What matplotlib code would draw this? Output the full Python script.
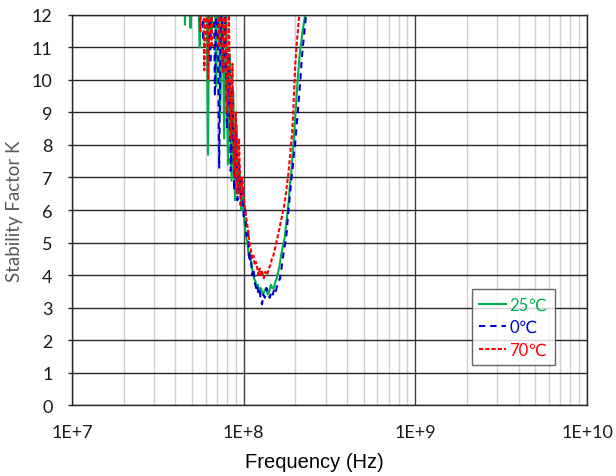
import matplotlib
matplotlib.use("Agg")
import matplotlib.pyplot as plt
from matplotlib.ticker import LogLocator, FixedLocator, NullFormatter

plt.rcParams['font.family'] = ['Lato', 'DejaVu Sans']

# Fator de estabilidade K medido (frequencia em MHz)
f25 = [44, 45.5, 47, 49, 51, 53, 55.5, 57, 59, 60.5,
       62, 63.5, 65, 67, 69, 71, 73, 75, 77, 79,
       81, 83, 85, 87, 89, 91, 93, 95, 97, 99,
       101, 103, 105, 107, 109, 111, 113, 115, 117, 119,
       121, 123, 126, 129, 132, 135, 138, 141, 144, 147,
       150, 153, 156, 159, 162, 165, 168, 171, 174, 177,
       180, 183, 186, 189, 192, 195, 198, 201, 204, 207,
       210, 213, 216, 219, 222, 225, 228, 231, 234]
k25 = [16, 11.7, 17, 11.6, 18, 15, 11.0, 16, 13.5, 14,
       7.7, 15, 11.5, 17, 9.8, 15, 8.9, 13, 8.2, 12,
       7.4, 10.8, 6.9, 9.6, 6.3, 8.6, 6.5, 7.2, 6.0, 6.4,
       5.6, 5.2, 5.0, 4.6, 4.7, 4.3, 4.1, 3.9, 3.8, 3.6,
       3.7, 3.5, 3.6, 3.4, 3.5, 3.6, 3.4, 3.5, 3.7, 3.6,
       3.6, 3.8, 3.9, 4.1, 4.3, 4.6, 4.8, 5.0, 5.2, 5.6,
       5.9, 6.3, 6.8, 7.1, 7.6, 8.0, 8.6, 9.1, 9.6, 10.1,
       10.5, 10.9, 11.1, 11.4, 11.6, 11.8, 12.0, 12.3, 12.6]

f0 = [52, 54, 56, 58, 60, 62, 64, 66, 68, 70,
      72, 74, 76, 78, 80, 82, 84, 86, 88, 90,
      92, 94, 96, 98, 100, 102, 104, 106, 108, 110,
      112, 114, 116, 118, 120, 122, 124, 126, 128, 130,
      133, 136, 139, 142, 145, 148, 151, 154, 157, 160,
      163, 166, 169, 172, 175, 178, 181, 184, 187, 190,
      193, 196, 199, 202, 205, 208, 211, 214, 217, 220,
      223, 226, 229, 232, 235, 238]
k0 = [16, 12.5, 17, 11.2, 15, 13, 10.5, 16, 9.5, 14,
      7.3, 13, 10.2, 12, 8.5, 11, 7.2, 9.8, 6.6, 8.4,
      6.3, 7.5, 6.4, 6.9, 5.8, 6.0, 5.2, 5.4, 4.4, 4.6,
      4.0, 4.2, 3.8, 3.6, 3.7, 3.4, 3.5, 3.2, 3.1, 3.4,
      3.3, 3.6, 3.4, 3.3, 3.5, 3.4, 3.6, 3.5, 3.7, 3.8,
      3.9, 4.2, 4.5, 4.8, 5.0, 5.3, 5.8, 6.2, 6.6, 7.0,
      7.3, 7.7, 8.0, 8.4, 8.8, 9.2, 9.6, 10.0, 10.5, 10.9,
      11.2, 11.5, 11.8, 12.1, 12.5, 13]

f70 = [54, 56, 57.5, 59, 60.5, 62, 63.5, 65, 66.5, 68,
       70, 72, 74, 76, 78, 80, 82, 84, 86, 88,
       90, 92, 94, 96, 98, 100, 102, 104, 106, 108,
       110, 112, 114, 116, 118, 120, 122, 124, 126, 128,
       131, 134, 137, 140, 143, 146, 149, 152, 155, 158,
       161, 164, 167, 170, 173, 176, 179, 182, 185, 188,
       191, 194, 197, 200, 203, 206, 209, 212, 215, 218]
k70 = [15, 11.5, 16, 10.3, 14, 10.0, 15, 11.0, 16, 12.5,
       14, 11.0, 15, 10.2, 13, 9.0, 12, 8.2, 10.5, 7.0,
       9.0, 6.5, 8.2, 6.1, 7.0, 6.4, 6.0, 5.7, 5.4, 5.0,
       4.8, 4.5, 4.6, 4.3, 4.4, 4.2, 4.0, 4.2, 4.0, 4.1,
       3.9, 4.1, 4.0, 4.2, 4.3, 4.5, 4.6, 4.8, 5.0, 5.2,
       5.4, 5.6, 5.8, 6.0, 6.2, 6.5, 6.8, 7.1, 7.5, 7.9,
       8.3, 8.9, 9.8, 10.5, 11.0, 11.4, 11.8, 12.1, 12.5, 13.0]

series = [
    (f25, k25, '25℃', '#00B050', '-'),
    (f0, k0, '0℃', '#0000CC', (0, (3.0, 2.4))),
    (f70, k70, '70℃', '#FF0000', (0, (2.0, 1.0))),
]

fig = plt.figure(figsize=(6.16, 4.77), dpi=100)
ax = fig.add_axes([0.1169, 0.1488, 0.836, 0.8177])

for f, k, nome, cor, estilo in series:
    hz = [v * 1e6 for v in f]
    ax.plot(hz, k, color=cor, linestyle=estilo, linewidth=1.5, label=nome)

ax.set_xscale('log')
ax.set_xlim(1e7, 1e10)
ax.set_ylim(0, 12)
ax.xaxis.set_major_locator(FixedLocator([1e7, 1e8, 1e9, 1e10]))
ax.set_xticklabels(['1E+7', '1E+8', '1E+9', '1E+10'])
ax.xaxis.set_minor_locator(LogLocator(base=10, subs=range(2, 10)))
ax.xaxis.set_minor_formatter(NullFormatter())
ax.set_yticks(range(0, 13))

ax.grid(which='minor', axis='x', color='#d0d0d0', linewidth=1.0)
ax.grid(which='major', axis='x', color='#404040', linewidth=1.0)
ax.grid(which='major', axis='y', color='#262626', linewidth=1.0)
ax.set_axisbelow(True)

ax.tick_params(which='both', length=0, labelsize=13, labelcolor='#1a1a1a')
ax.tick_params(axis='x', pad=14)
ax.tick_params(axis='y', length=3, width=1.0, color='#262626', pad=11)
for s in ax.spines.values():
    s.set_color('#262626')
    s.set_linewidth(1.0)

ax.set_xlabel('Frequency (Hz)', fontsize=14.5, family=['Liberation Sans', 'DejaVu Sans'])
ax.xaxis.set_label_coords(0.47, -0.12)
ax.set_ylabel('Stability Factor K', fontsize=13.5, color='#595959')
ax.yaxis.set_label_coords(-0.095, 0.5)

leg = ax.legend(loc='upper left', bbox_to_anchor=(0.7767, 0.2974), borderaxespad=0,
                fancybox=False, edgecolor='#404040', fontsize=12, labelcolor='linecolor',
                handlelength=1.6, borderpad=0.45, labelspacing=0.4, handletextpad=0.2)
leg.get_frame().set_linewidth(1.0)

fig.savefig('out.png', dpi=100)
